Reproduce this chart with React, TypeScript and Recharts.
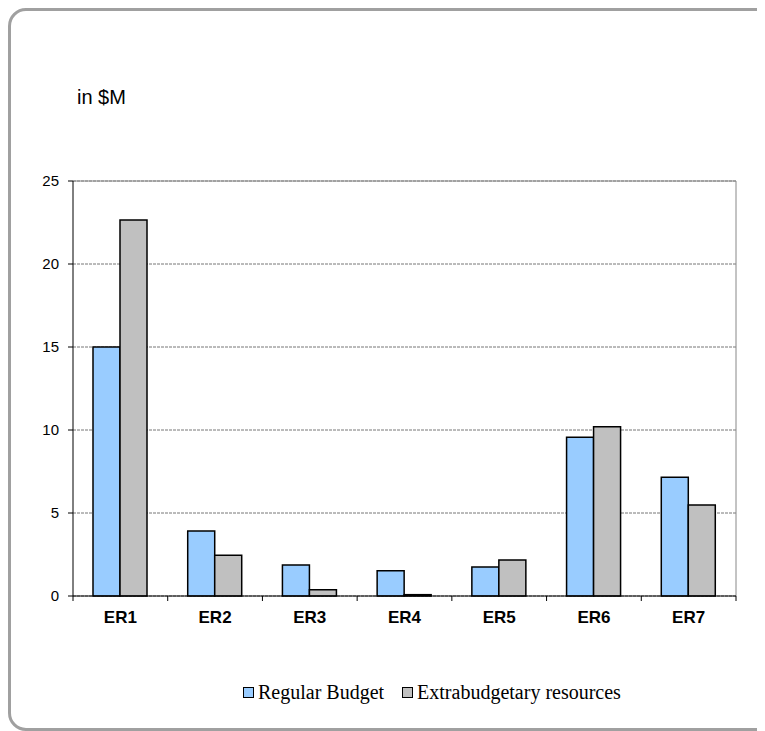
import {
  BarChart,
  Bar,
  XAxis,
  YAxis,
  CartesianGrid,
} from 'recharts';

const CATEGORIES = ['ER1', 'ER2', 'ER3', 'ER4', 'ER5', 'ER6', 'ER7'];
const REGULAR_BUDGET = [15.0, 3.92, 1.87, 1.52, 1.75, 9.57, 7.15];
const EXTRABUDGETARY = [22.65, 2.45, 0.38, 0.08, 2.17, 10.2, 5.48];
const Y_TICKS = [0, 5, 10, 15, 20, 25];

const SERIES = [
  { key: 'regular', name: 'Regular Budget', color: '#99CCFF' },
  { key: 'extra', name: 'Extrabudgetary resources', color: '#C0C0C0' },
];

const data = CATEGORIES.map((cat, i) => ({
  cat,
  regular: REGULAR_BUDGET[i],
  extra: EXTRABUDGETARY[i],
}));

const SANS = '"Liberation Sans", Arial, sans-serif';
const SERIF = '"Liberation Serif", "Times New Roman", serif';

// category label plus the tick marks on the category boundaries (Excel style)
function CategoryTick(props: any) {
  const { x, y, width, payload, index, visibleTicksCount } = props;
  const half = width / visibleTicksCount / 2;
  const last = index === visibleTicksCount - 1;
  return (
    <g>
      <line x1={x - half} x2={x - half} y1={y} y2={y + 5} stroke="#000" />
      {last && <line x1={x + half} x2={x + half} y1={y} y2={y + 5} stroke="#000" />}
      <text
        x={x}
        y={y + 15}
        dy="0.71em"
        textAnchor="middle"
        fontFamily={SANS}
        fontSize={17}
        fontWeight="bold"
        fill="#000"
      >
        {payload.value}
      </text>
    </g>
  );
}

export default function App() {
  return (
    <div style={{ position: 'relative', width: 757, height: 723, overflow: 'hidden' }}>
      <div
        style={{
          position: 'absolute',
          left: 0,
          top: 0,
          width: 772,
          height: 723,
          boxSizing: 'border-box',
          border: '3px solid #a0a0a0',
          borderRadius: 18,
        }}
      />
      <div
        style={{
          position: 'absolute',
          left: 69,
          top: 79,
          fontFamily: SANS,
          fontSize: 20,
          lineHeight: '20px',
          whiteSpace: 'nowrap',
        }}
      >
        in $M
      </div>
      <div style={{ position: 'absolute', left: 0, top: 0 }}>
        <BarChart
          width={749}
          height={723}
          data={data}
          margin={{ top: 173, right: 21, left: 25, bottom: 95 }}
          barGap={0}
        >
          <CartesianGrid vertical={false} stroke="#777" strokeDasharray="3 1" />
          <CartesianGrid
            stroke="#888"
            horizontalCoordinatesGenerator={({ offset }: any) => [offset.top]}
            verticalCoordinatesGenerator={({ offset }: any) => [offset.left + offset.width]}
          />
          <XAxis
            dataKey="cat"
            height={40}
            interval={0}
            axisLine={{ stroke: '#000' }}
            tickLine={false}
            tickSize={0}
            tickMargin={0}
            tick={<CategoryTick />}
          />
          <YAxis
            domain={[0, 25]}
            ticks={Y_TICKS}
            width={40}
            tickSize={5}
            tickMargin={9}
            axisLine={{ stroke: '#000' }}
            tickLine={{ stroke: '#000' }}
            tick={{ fontFamily: SANS, fontSize: 15, fill: '#000' }}
          />
          {SERIES.map((s) => (
            <Bar
              key={s.key}
              dataKey={s.key}
              name={s.name}
              fill={s.color}
              stroke="#000"
              strokeWidth={1.5}
              barSize={27}
              isAnimationActive={false}
            />
          ))}
        </BarChart>
      </div>
      <div
        style={{
          position: 'absolute',
          left: 235,
          top: 672,
          display: 'flex',
          alignItems: 'center',
          fontFamily: SERIF,
          fontSize: 20,
          lineHeight: '24px',
          whiteSpace: 'nowrap',
        }}
      >
        {SERIES.map((s, i) => (
          <div key={s.key} style={{ display: 'flex', alignItems: 'center', marginLeft: i ? 18 : 0 }}>
            <span
              style={{
                display: 'inline-block',
                width: 9,
                height: 9,
                background: s.color,
                border: '1px solid #000',
                marginRight: 4,
              }}
            />
            <span>{s.name}</span>
          </div>
        ))}
      </div>
    </div>
  );
}
